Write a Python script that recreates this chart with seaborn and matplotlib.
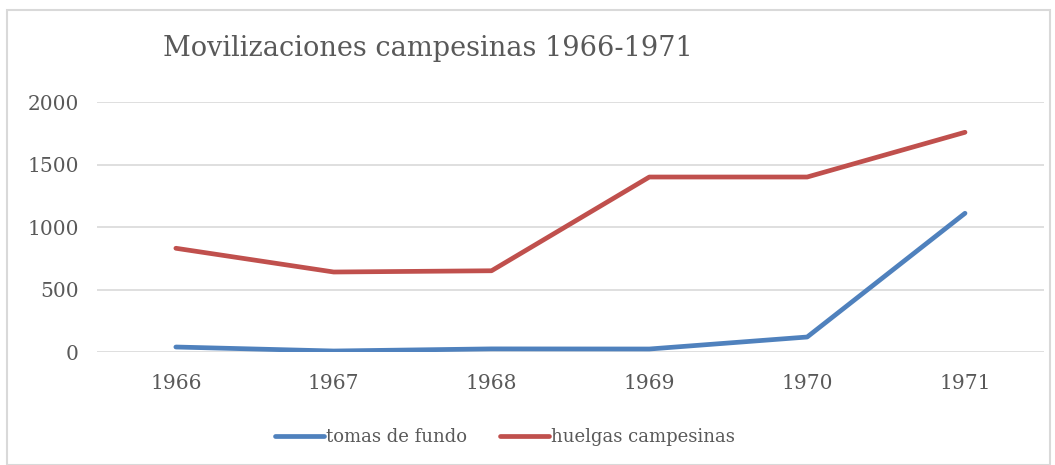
import pandas as pd
import matplotlib.pyplot as plt
import seaborn as sns
from matplotlib.patches import Rectangle

years = ["1966", "1967", "1968", "1969", "1970", "1971"]
tomas = [40, 8, 25, 24, 120, 1110]
huelgas = [830, 640, 650, 1400, 1400, 1758]
series_names = ["tomas de fundo", "huelgas campesinas"]
title = "Movilizaciones campesinas 1966-1971"

df = pd.DataFrame({
    "year": years * 2,
    "value": tomas + huelgas,
    "serie": [series_names[0]] * len(years) + [series_names[1]] * len(years),
})

sns.set_theme(style="white")
plt.rcParams["font.family"] = ["DejaVu Serif"]
text_col = "#595959"
colors = ["#4F81BD", "#C0504D"]

fig = plt.figure(figsize=(10.55, 4.65), dpi=100)
ax = fig.add_axes([0.0919, 0.243, 0.8976, 0.5376])

sns.lineplot(data=df, x="year", y="value", hue="serie",
             palette=colors, linewidth=3.4, ax=ax,
             solid_capstyle="round", legend=False)

ax.set_xlim(-0.5, len(years) - 0.5)
ax.set_ylim(0, 2000)
ax.set_yticks([0, 500, 1000, 1500, 2000])
ax.yaxis.grid(True, color="#d9d9d9", linewidth=1.2)
ax.set_axisbelow(True)
for s in ax.spines.values():
    s.set_visible(False)
ax.set_xlabel("")
ax.set_ylabel("")
ax.tick_params(axis="both", length=0, labelsize=14.5, colors=text_col)
ax.tick_params(axis="x", pad=16)
ax.tick_params(axis="y", pad=13)

fig.text(163 / 1055, 1 - 48 / 465, title, fontsize=19.5, color=text_col,
         ha="left", va="center")

handles = [plt.Line2D([], [], color=c, linewidth=3.4, solid_capstyle="round")
           for c in colors]
fig.legend(handles, series_names, loc="center", ncol=2, frameon=False,
           bbox_to_anchor=(505 / 1055, 1 - 437 / 465), fontsize=13,
           labelcolor=text_col, handlelength=2.7, handletextpad=0.15,
           columnspacing=1.8)

fig.patches.append(Rectangle((7 / 1055, 0), 1043 / 1055, 1 - 10 / 465,
                             transform=fig.transFigure, fill=False,
                             edgecolor="#d9d9d9", linewidth=1.5))

fig.savefig("out.png", dpi=100)
